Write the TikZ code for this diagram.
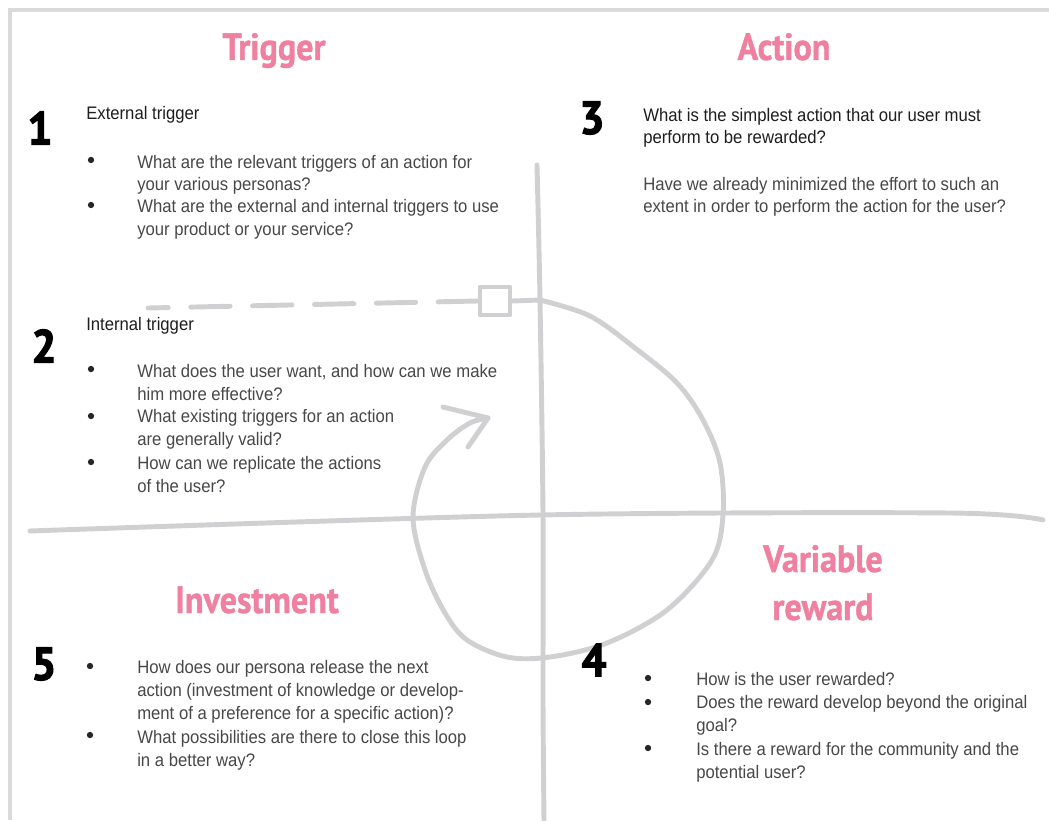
\documentclass[tikz,border=0pt]{standalone}
\usepackage{fontspec}
\setmainfont[FakeStretch=0.92]{Liberation Sans}
\newfontfamily\headfont[FakeStretch=0.9, BoldFeatures={FakeBold=1}]{PT Sans}
\newfontfamily\numfont[FakeStretch=0.95, BoldFeatures={FakeBold=2.5}]{PT Sans}
\usepackage{xcolor}
\usetikzlibrary{positioning,
	calc}
\definecolor{framegray}{RGB}{218,218,218}
\definecolor{loopgray}{RGB}{208,208,210}
\definecolor{titlepink}{RGB}{239,128,160}
\definecolor{bodygray}{RGB}{72,72,72}
\definecolor{headgray}{RGB}{30,30,30}
\tikzstyle{ttl}=[font=\headfont\bfseries\fontsize{27}{30}\selectfont, text=titlepink, anchor=base, inner sep=0]
\tikzstyle{num}=[font=\numfont\bfseries\fontsize{33}{33}\selectfont, text=black, inner sep=0]
\tikzstyle{hd}=[font=\fontsize{12.9}{16.3}\selectfont, text=headgray, anchor=base west, inner sep=0, align=left]
\tikzstyle{txt}=[font=\fontsize{12.9}{16.3}\selectfont, text=bodygray, anchor=base west, inner sep=0, align=left]
\tikzstyle{dot}=[circle, fill=black!85, inner sep=0, minimum size=4.5pt]
\tikzstyle{stroke}=[draw=loopgray, line width=3.5pt, line cap=round, line join=round]

\begin{document}
\begin{tikzpicture}[x=0.025cm, y=-0.025cm]
                \fill[white] (0,0) rectangle (1049,820);
                \useasboundingbox (0,0) rectangle (1049,820);
                \draw[framegray, line width=3.5pt] (10,820) -- (10,10) -- (1049,10);

                \draw[stroke] plot[smooth] coordinates {(537,165) (540,300) (543,515) (543,700) (544,822)};
                \draw[stroke] plot[smooth] coordinates {(30,531) (540,515) (950,513) (1043,520)};

                \coordinate (start) at (540,300);
                \coordinate (tail) at (148,308);
                \coordinate (tip) at (488,418);
                \node[stroke, minimum width=0.75cm, minimum height=0.7cm, inner sep=0] (gate) at (495,301) {};
                \draw[stroke] (gate.east) -- (start);
                \draw[stroke, dash pattern=on 28pt off 16pt] (gate.west) -- (tail);
                \draw[stroke] plot[smooth, tension=0.55] coordinates {(start) (590,316) (635,348) (677,383) (703,420) (720,463) (723,515) (712,560) (667,610) (607,643) (550,657) (507,657) (467,640) (445,613) (425,570) (413,517) (425,467) (447,440) (470,423) (tip)};
                \draw[stroke] (443,407) -- (tip) -- (468,447);

                \node[ttl] (trigger) at (274,60) {Trigger};
                \node[ttl] (action) at (784,60) {Action};
                \node[ttl] (invest) at (257,613) {Investment};
                \node[ttl] (var1) at (823,572) {Variable};
                \node[ttl] (var2) at (823,620) {reward};

                \node[num] (n1) at (40,128) {1};
                \node[num] (n2) at (44,346) {2};
                \node[num] (n3) at (592,118) {3};
                \node[num] (n4) at (594,660) {4};
                \node[num] (n5) at (44,664) {5};

                \node[hd] (ext) at (86,120) {External trigger};
                \node[dot] at (91,160) {}; \node[txt] (ext1) at (137,191) {What are the relevant triggers of an action for\\your various personas?};
                \node[dot] at (91,205) {}; \node[txt] (ext2) at (137,235) {What are the external and internal triggers to use\\your product or your service?};

                \node[hd] (int) at (86,330) {Internal trigger};
                \node[dot] at (91,369) {}; \node[txt] (int1) at (137,400) {What does the user want, and how can we make\\him more effective?};
                \node[dot] at (91,416) {}; \node[txt] (int2) at (137,445) {What existing triggers for an action\\are generally valid?};
                \node[dot] at (91,462) {}; \node[txt] (int3) at (137,492) {How can we replicate the actions\\of the user?};

                \node[hd] (act1) at (643,144) {What is the simplest action that our user must\\perform to be rewarded?};
                \node[txt] (act2) at (643,213) {Have we already minimized the effort to such an\\extent in order to perform the action for the user?};

                \node[dot] at (648,678) {}; \node[txt] (rew1) at (696,685) {How is the user rewarded?};
                \node[dot] at (648,702) {}; \node[txt] (rew2) at (696,731) {Does the reward develop beyond the original\\goal?};
                \node[dot] at (648,748) {}; \node[txt] (rew3) at (696,778) {Is there a reward for the community and the\\potential user?};

                \node[dot] at (90,666) {}; \node[txt] (inv1) at (137,719) {How does our persona release the next\\action (investment of knowledge or develop-\\ment of a preference for a specific action)?};
                \node[dot] at (90,735) {}; \node[txt] (inv2) at (137,766) {What possibilities are there to close this loop\\in a better way?};
            \end{tikzpicture}
\end{document}
